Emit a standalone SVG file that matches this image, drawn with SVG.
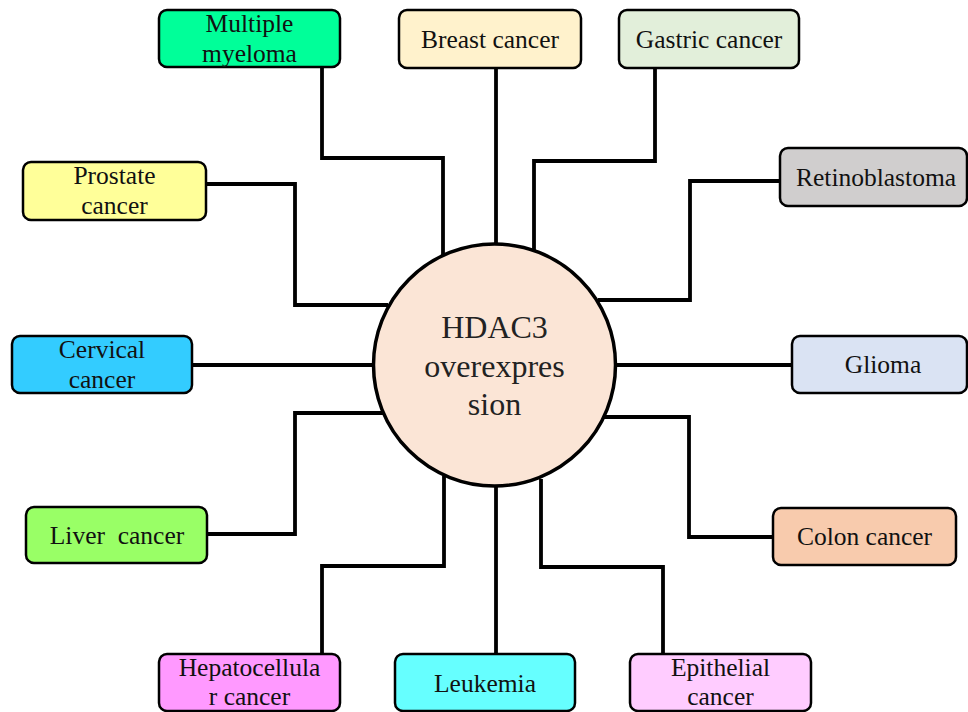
<svg xmlns="http://www.w3.org/2000/svg" width="968" height="712" viewBox="0 0 968 712">
<style>
.box{stroke:#000;stroke-width:2.5}
.t{font-family:"Liberation Serif","Times New Roman",serif;font-size:25.5px;fill:#111;text-anchor:middle}
.c{font-family:"Liberation Serif","Times New Roman",serif;font-size:32px;fill:#222;text-anchor:middle}
.ln{fill:none;stroke:#000;stroke-width:3.8}
</style>
<rect width="968" height="712" fill="#fff"/>
<g id="connectors">
<polyline class="ln" points="322,67 322,158 443,158 443,258"/>
<polyline class="ln" points="496,68 496,244"/>
<polyline class="ln" points="655,68 655,161 534,161 534,250"/>
<polyline class="ln" points="780,181 690,181 690,300 598,300"/>
<polyline class="ln" points="206,184 295,184 295,305 388,305"/>
<polyline class="ln" points="192,365 374,365"/>
<polyline class="ln" points="615,365 792,365"/>
<polyline class="ln" points="207,534 295,534 295,413 384,413"/>
<polyline class="ln" points="322,654 322,566 444,566 444,476"/>
<polyline class="ln" points="496,486 496,654"/>
<polyline class="ln" points="541,479 541,567 663,567 663,654"/>
<polyline class="ln" points="604,417 689,417 689,537 773,537"/>
</g>
<g id="hdac3">
<circle cx="494.5" cy="365" r="121" fill="#FBE5D6" stroke="#000" stroke-width="3.5"/>
<text class="c" x="494.5" y="338">HDAC3</text>
<text class="c" x="494.5" y="377">overexpres</text>
<text class="c" x="494.5" y="415">sion</text>
</g>
<g id="multiple-myeloma">
<rect class="box" x="159" y="10" width="181" height="57" rx="8" fill="#00FF99"/>
<text class="t" x="249.5" y="32">Multiple</text>
<text class="t" x="249.5" y="62">myeloma</text>
</g>
<g id="breast-cancer">
<rect class="box" x="399" y="10" width="182" height="58" rx="8" fill="#FFF2CC"/>
<text class="t" x="490" y="48">Breast cancer</text>
</g>
<g id="gastric-cancer">
<rect class="box" x="619" y="10" width="180" height="58" rx="8" fill="#E2EFDA"/>
<text class="t" x="709" y="48">Gastric cancer</text>
</g>
<g id="retinoblastoma">
<rect class="box" x="780" y="148" width="187" height="58" rx="8" fill="#D0CECE"/>
<text class="t" x="876" y="186">Retinoblastoma</text>
</g>
<g id="prostate-cancer">
<rect class="box" x="23" y="162" width="183" height="58" rx="8" fill="#FFFF99"/>
<text class="t" x="114.5" y="184">Prostate</text>
<text class="t" x="114.5" y="214">cancer</text>
</g>
<g id="cervical-cancer">
<rect class="box" x="12" y="336" width="180" height="57" rx="8" fill="#33CCFF"/>
<text class="t" x="102" y="358">Cervical</text>
<text class="t" x="102" y="388">cancer</text>
</g>
<g id="glioma">
<rect class="box" x="792" y="336" width="175" height="57" rx="8" fill="#DAE3F3"/>
<text class="t" x="883" y="373">Glioma</text>
</g>
<g id="liver-cancer">
<rect class="box" x="26" y="507" width="181" height="56" rx="8" fill="#99FF66"/>
<text class="t" x="117" y="544">Liver&#160; cancer</text>
</g>
<g id="colon-cancer">
<rect class="box" x="773" y="508" width="183" height="57" rx="8" fill="#F8CBAD"/>
<text class="t" x="864.5" y="545">Colon cancer</text>
</g>
<g id="hepatocellular-cancer">
<rect class="box" x="159" y="654" width="181" height="57" rx="8" fill="#FF99FF"/>
<text class="t" x="249.5" y="676">Hepatocellula</text>
<text class="t" x="249.5" y="705">r cancer</text>
</g>
<g id="leukemia">
<rect class="box" x="395" y="654" width="180" height="57" rx="8" fill="#66FFFF"/>
<text class="t" x="485" y="692">Leukemia</text>
</g>
<g id="epithelial-cancer">
<rect class="box" x="630" y="654" width="181" height="57" rx="8" fill="#FFCCFF"/>
<text class="t" x="720.5" y="676">Epithelial</text>
<text class="t" x="720.5" y="705">cancer</text>
</g>
</svg>
